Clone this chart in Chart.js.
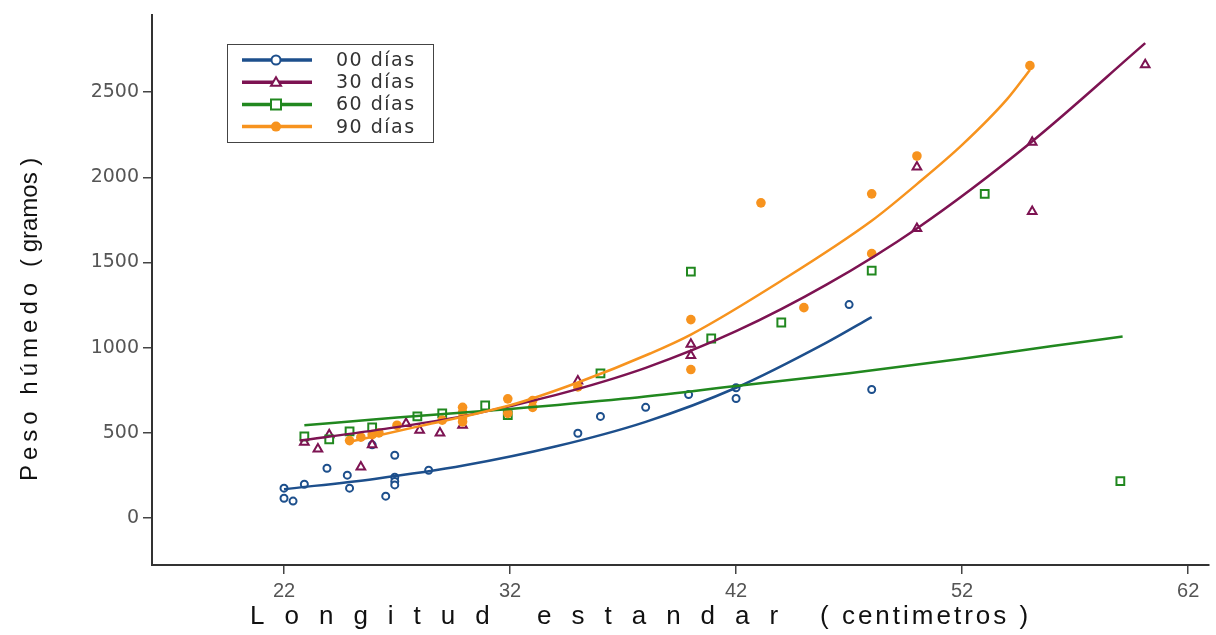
<!DOCTYPE html>
<html>
<head>
<meta charset="utf-8">
<script src="https://cdn.jsdelivr.net/npm/chart.js@4/dist/chart.umd.min.js"></script>
<style>
  html, body { margin: 0; padding: 0; background: #fff; }
</style>
</head>
<body>
<canvas id="chart" width="1216" height="635"></canvas>
<script>
// ticks y textos
const xTicks = [22, 32, 42, 52, 62];
const yTicks = [0, 500, 1000, 1500, 2000, 2500];
const series = ['00 días', '30 días', '60 días', '90 días'];
const xTitle = ['Longitud estandar', '( centimetros )'];
const yTitle = ['Peso húmedo', '( gramos )'];
const colors = ['#1d4f8c', '#7d1352', '#21881f', '#f7931e'];

// observaciones (longitud cm, peso g)
const len00 = [22.0, 22.0, 22.4, 22.9, 23.9, 24.8, 24.9, 25.9, 26.5, 26.9, 26.9, 26.9, 26.9, 28.4, 35.0, 36.0, 38.0, 39.9, 42.0, 42.0, 47.0, 48.0];
const peso00 = [176, 117, 100, 199, 293, 252, 176, 430, 129, 369, 240, 215, 195, 281, 498, 597, 650, 725, 765, 702, 1253, 755];

const len30 = [22.9, 23.5, 24.0, 25.4, 25.9, 27.4, 28.0, 28.9, 29.9, 35.0, 40.0, 40.0, 50.0, 50.0, 55.1, 55.1, 60.1];
const peso30 = [445, 405, 490, 300, 430, 555, 515, 500, 545, 805, 1020, 955, 2060, 1700, 2205, 1800, 2660];

const len60 = [22.9, 24.0, 24.9, 25.9, 27.9, 29.0, 30.9, 31.9, 36.0, 40.0, 40.9, 44.0, 48.0, 53.0, 59.0];
const peso60 = [480, 462, 509, 533, 597, 615, 661, 605, 849, 1446, 1054, 1148, 1452, 1903, 217];

const len90 = [24.9, 25.4, 25.9, 26.2, 27.0, 29.0, 29.9, 29.9, 29.9, 29.9, 31.9, 31.9, 33.0, 33.0, 35.0, 40.0, 40.0, 43.1, 45.0, 48.0, 48.0, 50.0, 55.0];
const peso90 = [455, 475, 490, 500, 545, 575, 650, 620, 590, 565, 700, 615, 690, 650, 770, 1165, 872, 1850, 1235, 1903, 1552, 2125, 2655];

// curvas ajustadas
const fitLen00 = [22, 26, 30, 34, 38, 42, 46, 48];
const fitPeso00 = [170, 230, 310, 420, 565, 765, 1030, 1180];
const fitLen30 = [22.7, 26, 30, 34, 38, 42, 46, 50, 55, 60.1];
const fitPeso30 = [455, 515, 600, 722, 882, 1097, 1370, 1700, 2200, 2787];
const fitLen60 = [22.9, 27, 32, 37, 42, 47, 52, 56, 59.1];
const fitPeso60 = [545, 590, 640, 700, 775, 850, 935, 1010, 1066];
const fitLen90 = [24.8, 28, 32, 35, 38.2, 40, 44, 48, 50, 52, 54, 55];
const fitPeso90 = [445, 540, 662, 796, 966, 1077, 1393, 1745, 1960, 2190, 2460, 2630];

function pts(xs, ys) {
  return xs.map((x, i) => ({x: x, y: ys[i]}));
}

const markers = [
  {pointStyle: 'circle', pointRadius: 3.5, pointBorderWidth: 2, pointBackgroundColor: '#fff'},
  {pointStyle: 'triangle', pointRadius: 5, pointBorderWidth: 2, pointBackgroundColor: '#fff'},
  {pointStyle: 'rect', pointRadius: 5.5, pointBorderWidth: 2, pointBackgroundColor: '#fff'},
  {pointStyle: 'circle', pointRadius: 4.8, pointBorderWidth: 0, pointBackgroundColor: colors[3]},
];

const obs = [[len00, peso00], [len30, peso30], [len60, peso60], [len90, peso90]];
const fits = [[fitLen00, fitPeso00], [fitLen30, fitPeso30], [fitLen60, fitPeso60], [fitLen90, fitPeso90]];

const datasets = [];
obs.forEach((o, i) => {
  datasets.push(Object.assign({
    label: series[i],
    data: pts(o[0], o[1]),
    showLine: false,
    borderColor: colors[i],
    pointBorderColor: colors[i],
    order: 10 - i
  }, markers[i]));
});
fits.forEach((f, i) => {
  datasets.push({
    label: 'ajuste ' + series[i],
    data: pts(f[0], f[1]),
    showLine: true,
    pointRadius: 0,
    borderColor: colors[i],
    borderWidth: 2.5,
    cubicInterpolationMode: 'monotone',
    fill: false,
    order: 5 - i
  });
});

// leyenda dentro del grafico, linea + marcador como en el original
const legendBox = {
  id: 'legendBox',
  afterDraw(chart) {
    const ctx = chart.ctx;
    ctx.save();
    ctx.strokeStyle = '#444';
    ctx.lineWidth = 1;
    ctx.strokeRect(227.5, 44.5, 206, 98);
    series.forEach((lab, i) => {
      const y = 60 + i * 22.2;
      const c = colors[i];
      ctx.strokeStyle = c;
      ctx.lineWidth = 3.5;
      ctx.beginPath();
      ctx.moveTo(242, y);
      ctx.lineTo(312, y);
      ctx.stroke();
      ctx.lineWidth = 2;
      ctx.fillStyle = '#fff';
      ctx.beginPath();
      if (i === 0) {
        ctx.arc(276, y, 4.5, 0, Math.PI * 2);
        ctx.fill(); ctx.stroke();
      } else if (i === 1) {
        ctx.moveTo(276, y - 5); ctx.lineTo(281, y + 3.5); ctx.lineTo(271, y + 3.5); ctx.closePath();
        ctx.fill(); ctx.stroke();
      } else if (i === 2) {
        ctx.rect(271, y - 5, 10, 10);
        ctx.fill(); ctx.stroke();
      } else {
        ctx.fillStyle = c;
        ctx.arc(276, y, 5, 0, Math.PI * 2);
        ctx.fill();
      }
      ctx.fillStyle = '#333';
      ctx.font = '19px "DejaVu Sans"';
      ctx.letterSpacing = '1.5px';
      ctx.textBaseline = 'middle';
      ctx.fillText(lab, 336, y + 1);
      ctx.letterSpacing = '0px';
    });
    ctx.restore();
  }
};

// titulos de ejes con letras espaciadas
const axisTitles = {
  id: 'axisTitles',
  afterDraw(chart) {
    const ctx = chart.ctx;
    ctx.save();
    ctx.fillStyle = '#111';
    ctx.textBaseline = 'middle';
    ctx.font = '26px "Liberation Sans", Arial';
    ctx.letterSpacing = '20px';
    ctx.fillText(xTitle[0], 250, 617);
    ctx.letterSpacing = '3px';
    ctx.fillText(xTitle[1], 820, 617);

    ctx.translate(30, 481);
    ctx.rotate(-Math.PI / 2);
    ctx.font = '24px "Liberation Sans", Arial';
    ctx.letterSpacing = '5px';
    ctx.fillText(yTitle[0], 0, 0);
    ctx.letterSpacing = '0px';
    ctx.fillText(yTitle[1], 214, 0);
    ctx.restore();
  }
};

new Chart(document.getElementById('chart'), {
  type: 'scatter',
  data: {datasets: datasets},
  options: {
    responsive: false,
    animation: false,
    layout: {padding: {top: 14, right: 3, bottom: 0, left: 0}},
    plugins: {
      legend: {display: false},
      tooltip: {enabled: false}
    },
    scales: {
      x: {
        type: 'linear',
        min: 16.16,
        max: 62.9,
        afterBuildTicks: s => { s.ticks = xTicks.map(v => ({value: v})); },
        afterFit: s => { s.height = 70; },
        ticks: {
          color: '#555',
          font: {family: '"Liberation Sans Narrow", "Liberation Sans", Arial', size: 20},
          padding: 5,
          maxRotation: 0,
          autoSkip: false,
          callback: v => String(v)
        },
        grid: {drawOnChartArea: false, drawTicks: true, tickLength: 9, color: '#444', lineWidth: 1.5},
        border: {display: true, color: '#333', width: 2}
      },
      y: {
        type: 'linear',
        min: -275,
        max: 2950,
        afterBuildTicks: s => { s.ticks = yTicks.map(v => ({value: v})); },
        afterFit: s => { s.width = 152; },
        ticks: {
          color: '#555',
          font: {family: '"DejaVu Sans"', size: 19},
          padding: 4,
          autoSkip: false,
          callback: v => String(v)
        },
        grid: {drawOnChartArea: false, drawTicks: true, tickLength: 9, color: '#444', lineWidth: 1.5},
        border: {display: true, color: '#333', width: 2}
      }
    }
  },
  plugins: [legendBox, axisTitles]
});
</script>
</body>
</html>
